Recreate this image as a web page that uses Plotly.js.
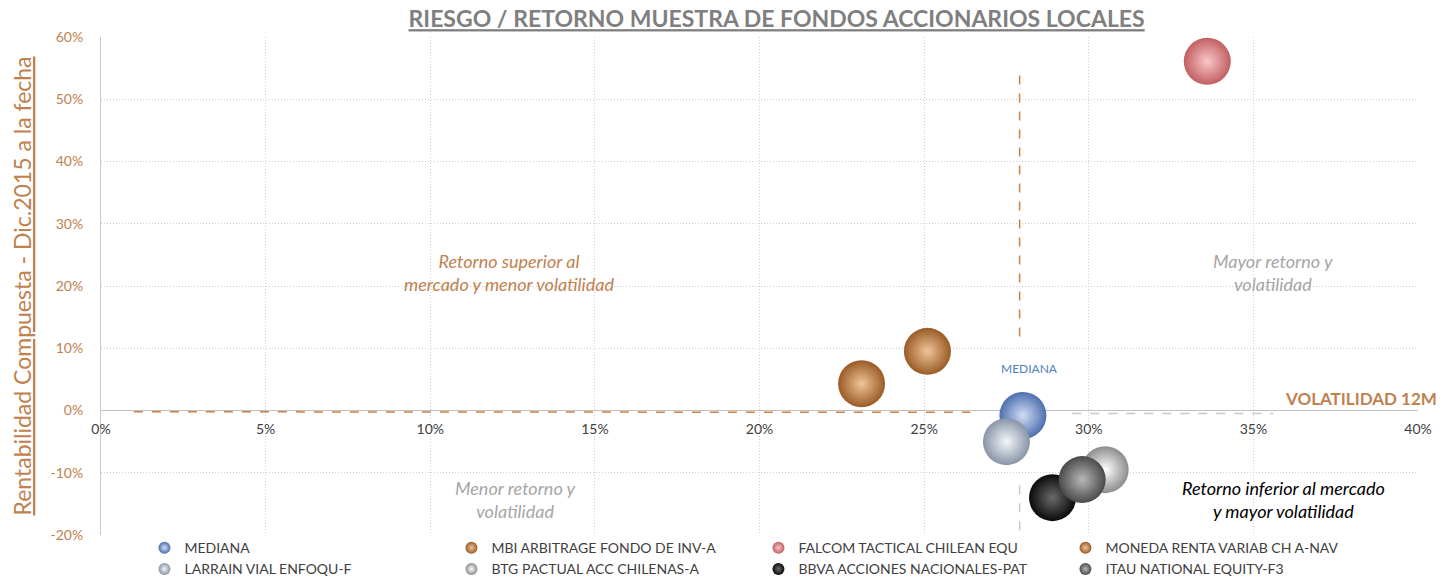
<!DOCTYPE html>
<html>
<head>
<meta charset="utf-8">
<script src="https://cdn.plot.ly/plotly-3.0.1.min.js"></script>
<style>html,body{margin:0;padding:0;background:#fff;}#chart{width:1454px;height:579px;}</style>
</head>
<body>
<div id="chart"></div>
<script>
// Fund names (legend order)
const funds = [
  "MEDIANA",
  "MBI ARBITRAGE FONDO DE INV-A",
  "FALCOM TACTICAL CHILEAN EQU",
  "MONEDA RENTA VARIAB CH A-NAV",
  "LARRAIN VIAL ENFOQU-F",
  "BTG PACTUAL ACC CHILENAS-A",
  "BBVA ACCIONES NACIONALES-PAT",
  "ITAU NATIONAL EQUITY-F3"
];
// Volatility 12M (%)
const volatility = [28.0, 23.1, 33.6, 25.1, 27.5, 30.5, 28.9, 29.8];
// Compound return Dec.2015 to date (%)
const returns = [-0.8, 4.3, 56.1, 9.5, -5.0, -9.5, -14.0, -11.1];

// Tick values
const xTicks = [0, 5, 10, 15, 20, 25, 30, 35, 40];
const yTicks = [-20, -10, 0, 10, 20, 30, 40, 50, 60];

// Quadrant divider segments (data coords)
const hLineLeftX = [1, 26.4];
const hLineLeftY = [-0.2, -0.3];
const hLineRightX = [29.5, 35.6];
const hLineRightY = [-0.5, -0.5];
const vLineTopX = [27.9, 27.9];
const vLineTopY = [53.8, 11.4];
const vLineBottomX = [27.9, 27.9];
const vLineBottomY = [-12.0, -20.0];

const outerColors = ["#4d6fae", "#9a5b25", "#c25f62", "#9a5b25", "#8894a6", "#8c8c8c", "#0a0a0a", "#4a4a4a"];
const innerColors = ["#d2def5", "#f0c49a", "#f9c7c7", "#f0c49a", "#f4f7fb", "#ffffff", "#6a6a6a", "#b8b8b8"];

const FONT = "Lato, 'Noto Sans', sans-serif";
const BROWN = "#c0814f";

const traces = funds.map((name, i) => ({
  type: "scatter",
  mode: "markers",
  name: name,
  x: [volatility[i]],
  y: [returns[i]],
  marker: {
    size: 47,
    color: outerColors[i],
    gradient: { type: "radial", color: innerColors[i] },
    line: { width: 0 }
  },
  hoverinfo: "name+x+y"
}));

const layout = {
  width: 1454,
  height: 579,
  margin: { l: 101, r: 36, t: 37, b: 44, autoexpand: false },
  paper_bgcolor: "#ffffff",
  plot_bgcolor: "#ffffff",
  font: { family: FONT, color: "#404040" },
  title: {
    text: "<b><u>RIESGO / RETORNO MUESTRA DE FONDOS ACCIONARIOS LOCALES</u></b>",
    font: { family: FONT, size: 23, color: "#7f7f7f" },
    xref: "paper", x: 0.513, xanchor: "center",
    yref: "container", y: 0.967, yanchor: "middle"
  },
  xaxis: {
    range: [0, 40],
    tickvals: xTicks,
    ticktext: xTicks.map(v => v + "%"),
    anchor: "free",
    position: 0.25,
    showline: false,
    zeroline: false,
    showgrid: true,
    gridcolor: "#d0d0d0",
    griddash: "1px,2px",
    gridwidth: 1,
    ticks: "",
    ticklabelstandoff: 8,
    tickfont: { family: FONT, size: 14, color: "#404040" },
    fixedrange: true
  },
  yaxis: {
    range: [-20, 60],
    tickvals: yTicks,
    ticktext: yTicks.map(v => v + "%"),
    showline: true,
    linecolor: "#c8c8c8",
    linewidth: 1,
    zeroline: true,
    zerolinecolor: "#c0c0c0",
    zerolinewidth: 1,
    showgrid: true,
    gridcolor: "#d0d0d0",
    griddash: "1px,2px",
    ticks: "",
    ticklabelstandoff: 14,
    tickfont: { family: FONT, size: 14, color: BROWN },
    title: {
      text: "<u>Rentabilidad Compuesta - Dic.2015 a la fecha</u>",
      font: { family: FONT, size: 23, color: BROWN },
      standoff: 12
    },
    fixedrange: true
  },
  showlegend: true,
  legend: {
    orientation: "h",
    x: 0.033, xanchor: "left", xref: "paper",
    y: 0.081, yanchor: "top", yref: "container",
    entrywidth: 262,
    entrywidthmode: "pixels",
    itemsizing: "constant",
    tracegroupgap: 0,
    font: { family: FONT, size: 14, color: "#404040" },
    bgcolor: "rgba(0,0,0,0)"
  },
  shapes: [
    { type: "line", xref: "x", yref: "y", x0: hLineLeftX[0], x1: hLineLeftX[1], y0: hLineLeftY[0], y1: hLineLeftY[1], line: { color: "#c8824a", width: 1.5, dash: "dash" }, layer: "between" },
    { type: "line", xref: "x", yref: "y", x0: vLineTopX[0], x1: vLineTopX[1], y0: vLineTopY[0], y1: vLineTopY[1], line: { color: "#c8824a", width: 1.5, dash: "dash" }, layer: "between" },
    { type: "line", xref: "x", yref: "y", x0: hLineRightX[0], x1: hLineRightX[1], y0: hLineRightY[0], y1: hLineRightY[1], line: { color: "#c8c8c8", width: 1.5, dash: "dash" }, layer: "between" },
    { type: "line", xref: "x", yref: "y", x0: vLineBottomX[0], x1: vLineBottomX[1], y0: vLineBottomY[0], y1: vLineBottomY[1], line: { color: "#c8c8c8", width: 1.5, dash: "dash" }, layer: "between" }
  ],
  annotations: [
    { xref: "x", yref: "y", x: 12.4, y: 22.1, text: "<i>Retorno superior al<br>mercado y menor volatilidad</i>", showarrow: false, font: { family: FONT, size: 18, color: BROWN }, align: "center" },
    { xref: "x", yref: "y", x: 35.6, y: 22.1, text: "<i>Mayor retorno y<br>volatilidad</i>", showarrow: false, font: { family: FONT, size: 18, color: "#a6a6a6" }, align: "center" },
    { xref: "x", yref: "y", x: 12.6, y: -14.3, text: "<i>Menor retorno y<br>volatilidad</i>", showarrow: false, font: { family: FONT, size: 18, color: "#a6a6a6" }, align: "center" },
    { xref: "x", yref: "y", x: 35.9, y: -14.3, text: "<i>Retorno inferior al mercado<br>y mayor volatilidad</i>", showarrow: false, font: { family: FONT, size: 18, color: "#000000" }, align: "center" },
    { xref: "x", yref: "y", x: 28.2, y: 6.8, text: "MEDIANA", showarrow: false, font: { family: FONT, size: 12, color: "#4f81bd" } },
    { xref: "paper", yref: "y", x: 1.016, y: 2.0, xanchor: "right", text: "<b>VOLATILIDAD 12M</b>", showarrow: false, font: { family: FONT, size: 17, color: BROWN } }
  ]
};

Plotly.newPlot("chart", traces, layout, { displayModeBar: false, staticPlot: true });
</script>
</body>
</html>
